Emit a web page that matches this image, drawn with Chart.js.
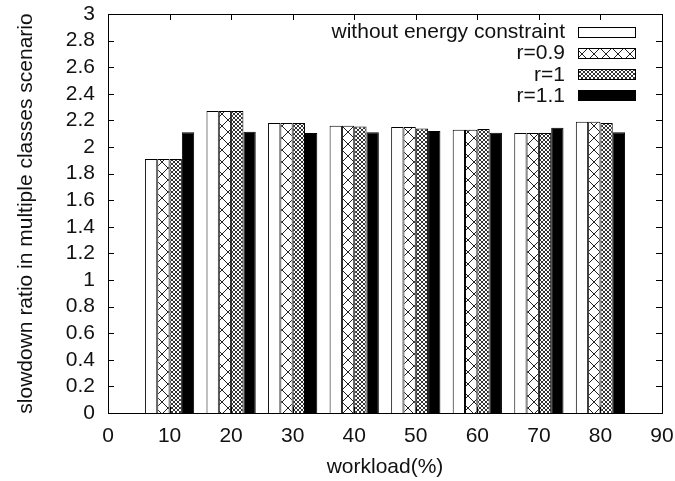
<!DOCTYPE html>
<html>
<head>
<meta charset="utf-8">
<script src="https://cdn.jsdelivr.net/npm/chart.js@4"></script>
<style>
  html, body { margin: 0; padding: 0; background: #fff; }
  canvas { display: block; }
</style>
</head>
<body>
<canvas id="chart" width="675" height="481"></canvas>
<script>
// Workload levels (%) and slowdown ratios for each energy setting
const workloads = [10, 20, 30, 40, 50, 60, 70, 80];
const noConstraint = [1.91, 2.27, 2.18, 2.16, 2.15, 2.13, 2.105, 2.19];
const r09 = [1.91, 2.27, 2.18, 2.16, 2.15, 2.13, 2.105, 2.19];
const r10 = [1.91, 2.27, 2.18, 2.155, 2.14, 2.135, 2.105, 2.18];
const r11 = [2.11, 2.115, 2.105, 2.11, 2.12, 2.107, 2.145, 2.11];
const seriesNames = ['without energy constraint', 'r=0.9', 'r=1', 'r=1.1'];
const xTicks = [0, 10, 20, 30, 40, 50, 60, 70, 80, 90];
const yTicks = [0, 0.2, 0.4, 0.6, 0.8, 1, 1.2, 1.4, 1.6, 1.8, 2, 2.2, 2.4, 2.6, 2.8, 3];

const FONT = 'Liberation Sans, Arial, sans-serif';
const INK = '#111';

function hatch(size, lineColor, lineWidth) {
  const c = document.createElement('canvas');
  c.width = size; c.height = size;
  const g = c.getContext('2d');
  g.fillStyle = '#fff';
  g.fillRect(0, 0, size, size);
  g.strokeStyle = lineColor;
  g.lineWidth = lineWidth;
  g.beginPath();
  g.moveTo(0, 0); g.lineTo(size, size);
  g.moveTo(size, 0); g.lineTo(0, size);
  g.stroke();
  return g.createPattern(c, 'repeat');
}
const ctx = document.getElementById('chart').getContext('2d');
const fills = ['#ffffff', hatch(12, '#222', 1), hatch(4, '#333', 1), '#000000'];

const seriesValues = [noConstraint, r09, r10, r11];
const datasets = seriesValues.map((vals, i) => ({
  label: seriesNames[i],
  data: workloads.map((w, j) => ({ x: w, y: vals[j] })),
  backgroundColor: fills[i],
  borderColor: '#000',
  borderWidth: 1,
  categoryPercentage: 0.8,
  barPercentage: 1.0
}));

// Closed frame with inward tick marks on all four sides
const framePlugin = {
  id: 'frame',
  afterDatasetsDraw(chart) {
    const { ctx, chartArea: a, scales } = chart;
    ctx.save();
    ctx.strokeStyle = '#000';
    ctx.lineWidth = 1;
    ctx.strokeRect(Math.round(a.left) + 0.5, Math.round(a.top) + 0.5,
                   Math.round(a.right - a.left), Math.round(a.bottom - a.top));
    const len = 6;
    ctx.beginPath();
    yTicks.forEach(v => {
      const y = Math.round(scales.y.getPixelForValue(v)) + 0.5;
      if (v === yTicks[0] || v === yTicks[yTicks.length - 1]) return;
      ctx.moveTo(a.left, y); ctx.lineTo(a.left + len, y);
      ctx.moveTo(a.right, y); ctx.lineTo(a.right - len, y);
    });
    xTicks.forEach(v => {
      const x = Math.round(scales.x.getPixelForValue(v)) + 0.5;
      if (v === xTicks[0] || v === xTicks[xTicks.length - 1]) return;
      ctx.moveTo(x, a.top); ctx.lineTo(x, a.top + len);
      ctx.moveTo(x, a.bottom); ctx.lineTo(x, a.bottom - len);
    });
    ctx.stroke();
    ctx.restore();
  }
};

// Key in the upper right: label right-aligned, sample box to its right
const keyPlugin = {
  id: 'key',
  afterDraw(chart) {
    const { ctx } = chart;
    const textRight = 565, boxLeft = 578, boxW = 57, boxH = 10;
    const firstY = 31.5, step = 21.2;
    ctx.save();
    ctx.font = '21px ' + FONT;
    ctx.textAlign = 'right';
    ctx.textBaseline = 'middle';
    chart.data.datasets.forEach((ds, i) => {
      const y = firstY + step * i;
      ctx.fillStyle = INK;
      ctx.fillText(ds.label, textRight, y + 1);
      ctx.fillStyle = ds.backgroundColor;
      const top = Math.round(y - boxH / 2) + 0.5;
      ctx.fillRect(boxLeft + 0.5, top, boxW, boxH);
      ctx.strokeStyle = '#000';
      ctx.lineWidth = 1;
      ctx.strokeRect(boxLeft + 0.5, top, boxW, boxH);
    });
    ctx.restore();
  }
};

new Chart(ctx, {
  type: 'bar',
  data: { datasets },
  options: {
    responsive: false,
    animation: false,
    devicePixelRatio: 1,
    layout: { padding: { top: 14, right: 13, left: 0, bottom: 0 } },
    plugins: {
      legend: { display: false },
      tooltip: { enabled: false }
    },
    scales: {
      x: {
        type: 'linear',
        min: 0,
        max: 90,
        offset: false,
        grid: { display: false, drawTicks: false },
        border: { display: false },
        afterBuildTicks: s => { s.ticks = xTicks.map(v => ({ value: v })); },
        afterFit: s => { s.height = 68; s.paddingLeft = 0; s.paddingRight = 0; },
        ticks: {
          autoSkip: false,
          maxRotation: 0,
          padding: 11,
          color: INK,
          font: { family: FONT, size: 21 },
          callback: v => String(v)
        },
        title: {
          display: true,
          text: 'workload(%)',
          color: INK,
          font: { family: FONT, size: 21 },
          padding: { top: 0, bottom: 1 }
        }
      },
      y: {
        min: 0,
        max: 3,
        grid: { display: false, drawTicks: false },
        border: { display: false },
        afterBuildTicks: s => { s.ticks = yTicks.map(v => ({ value: v })); },
        afterFit: s => { s.width = 108; s.paddingTop = 0; s.paddingBottom = 0; },
        ticks: {
          autoSkip: false,
          padding: 13,
          color: INK,
          font: { family: FONT, size: 21 },
          callback: v => String(v)
        },
        title: {
          display: true,
          text: 'slowdown ratio in multiple classes scenario',
          color: INK,
          font: { family: FONT, size: 21 },
          padding: { top: 14, bottom: 0 }
        }
      }
    }
  },
  plugins: [framePlugin, keyPlugin]
});
</script>
</body>
</html>
